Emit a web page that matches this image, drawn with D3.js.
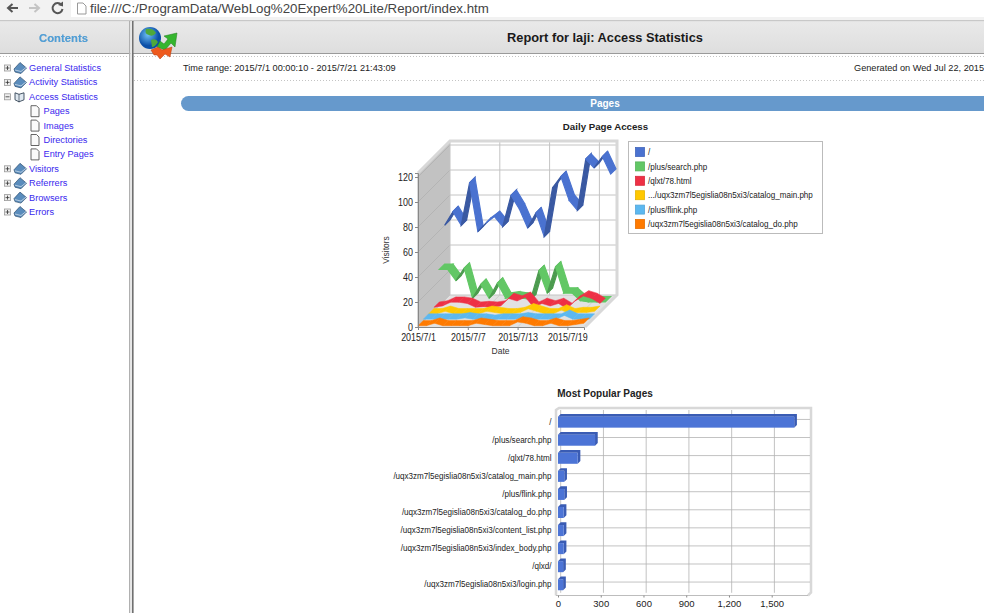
<!DOCTYPE html>
<html>
<head>
<meta charset="utf-8">
<title>Report for laji: Access Statistics</title>
<script src="https://cdn.jsdelivr.net/npm/d3@7"></script>
<style>
  html, body { margin: 0; padding: 0; background: #fff; overflow: hidden; }
  text { font-family: "Liberation Sans", Arial, sans-serif; }
</style>
</head>
<body>
<script>
// daily page access
var days = ["2015/7/1","2015/7/2","2015/7/3","2015/7/4","2015/7/5","2015/7/6","2015/7/7","2015/7/8","2015/7/9","2015/7/10","2015/7/11","2015/7/12","2015/7/13","2015/7/14","2015/7/15","2015/7/16","2015/7/17","2015/7/18","2015/7/19","2015/7/20","2015/7/21"];
var dayTicks = ["2015/7/1","2015/7/7","2015/7/13","2015/7/19"];
var visitorTicks = [0,20,40,60,80,100,120];
var legendNames = ["/","/plus/search.php","/qlxt/78.html",".../uqx3zm7l5egislia08n5xi3/catalog_main.php","/plus/flink.php","/uqx3zm7l5egislia08n5xi3/catalog_do.php"];
var rootVisits   = [60,71,60,94,55,62,67,59,84,73,58,70,51,90,99,80,72,113,106,115,101];
var searchVisits = [29,29,20,30,6,17,6,18,6,7,6,5,28,10,31,10,10,4,3,3,3];
var qlxtVisits   = [3,4,7,7,6,3,3.5,3,4,10,8,11,3,6,4,6,2,8,12,10,6];
var mainVisits   = [2,2,4,2,2,2,2,4,3,2,2,3,6,4,2,2,5,2,3,3,4];
var flinkVisits  = [2,2,2,2,2,3,2,2,1,2,2,2,3,2,2,2,2,5,2,2,2];
var doVisits     = [1,1,3,1,1,1,1,3,2,1,1,1,4,3,1,1,3,1,1,2,3];
var dailySeries = [rootVisits, searchVisits, qlxtVisits, mainVisits, flinkVisits, doVisits];
var seriesColors = ["#4a72d0","#62c765","#ee3045","#ffc800","#5cb8f0","#ff7a00"];

// most popular pages
var pageNames = ["/","/plus/search.php","/qlxt/78.html","/uqx3zm7l5egislia08n5xi3/catalog_main.php","/plus/flink.php","/uqx3zm7l5egislia08n5xi3/catalog_do.php","/uqx3zm7l5egislia08n5xi3/content_list.php","/uqx3zm7l5egislia08n5xi3/index_body.php","/qlxd/","/uqx3zm7l5egislia08n5xi3/login.php"];
var pageTotals = [1658,260,138,44,44,40,40,40,36,36];
var totalTicks = [0,300,600,900,1200,1500];

// navigation tree
var treeItems = ["General Statistics","Activity Statistics","Access Statistics","Pages","Images","Directories","Entry Pages","Visitors","Referrers","Browsers","Errors"];
var treeChildren = ["Pages","Images","Directories","Entry Pages"];

var svg = d3.select("body").append("svg")
    .attr("width", 984).attr("height", 613)
    .style("display", "block");

function label(g, x, y, str, size, anchor, color, weight) {
  return g.append("text")
      .attr("x", x).attr("y", y)
      .attr("font-size", size)
      .attr("text-anchor", anchor || "start")
      .attr("fill", color || "#222")
      .attr("font-weight", weight || "normal")
      .attr("dominant-baseline", "central")
      .text(str);
}
// the original chart font is narrower than anything installed, so squeeze it
function narrowLabel(g, x, y, str, anchor) {
  return label(g, 0, 0, str, 9.5, anchor, "#222")
      .attr("transform", "translate(" + x + "," + y + ") scale(0.85,1)");
}
function poly(g, pts, fill, stroke, sw) {
  return g.append("polygon")
      .attr("points", pts.map(function(p) { return p.join(","); }).join(" "))
      .attr("fill", fill)
      .attr("stroke", stroke || "none")
      .attr("stroke-width", sw || 0)
      .attr("stroke-linejoin", "round");
}

var defs = svg.append("defs");
var grad = defs.append("linearGradient").attr("id", "band").attr("x1", 0).attr("x2", 0).attr("y1", 0).attr("y2", 1);
grad.append("stop").attr("offset", 0).attr("stop-color", "#e9e9e9");
grad.append("stop").attr("offset", 1).attr("stop-color", "#dedede");
var globeGrad = defs.append("radialGradient").attr("id", "globe").attr("cx", 0.4).attr("cy", 0.35);
globeGrad.append("stop").attr("offset", 0).attr("stop-color", "#6fc0f5");
globeGrad.append("stop").attr("offset", 1).attr("stop-color", "#0b4fa8");

// ---- browser toolbar
var chrome = svg.append("g");
chrome.append("rect").attr("width", 984).attr("height", 20).attr("fill", "#f2f2f2");
chrome.append("rect").attr("x", 71).attr("width", 913).attr("height", 17).attr("fill", "#fff");
chrome.append("path").attr("d", "M18 8H9M12.5 4L8 8L12.5 12").attr("fill", "none").attr("stroke", "#555").attr("stroke-width", 2);
chrome.append("path").attr("d", "M29 8H38M34.5 4L39 8L34.5 12").attr("fill", "none").attr("stroke", "#c4c4c4").attr("stroke-width", 2);
chrome.append("path").attr("d", "M61.5 5A5 5 0 1 0 62.5 9").attr("fill", "none").attr("stroke", "#555").attr("stroke-width", 2);
poly(chrome, [[58,5],[63,1.5],[63,6.5]], "#555");
chrome.append("path").attr("d", "M77.5 3H83L86 6V14H77.5Z").attr("fill", "#fff").attr("stroke", "#999");
label(chrome, 90, 8.5, "file:///C:/ProgramData/WebLog%20Expert%20Lite/Report/index.htm", 13.3, "start", "#444");

// ---- frames
var frames = svg.append("g");
frames.append("rect").attr("y", 22).attr("width", 129).attr("height", 31).attr("fill", "url(#band)");
frames.append("rect").attr("x", 134).attr("y", 22).attr("width", 850).attr("height", 31).attr("fill", "url(#band)");
frames.append("rect").attr("y", 53).attr("width", 984).attr("height", 1).attr("fill", "#9a9a9a");
frames.append("rect").attr("y", 20).attr("width", 984).attr("height", 1.5).attr("fill", "#c8c8c8");
frames.append("rect").attr("x", 129).attr("y", 21).attr("width", 1.4).attr("height", 592).attr("fill", "#b0b0b0");
frames.append("rect").attr("x", 130.4).attr("y", 21).attr("width", 1.6).attr("height", 592).attr("fill", "#e8e8e8");
frames.append("rect").attr("x", 132).attr("y", 21).attr("width", 1.6).attr("height", 592).attr("fill", "#707070");
frames.append("line").attr("x1", 0).attr("x2", 129).attr("y1", 56.5).attr("y2", 56.5).attr("stroke", "#c4c4c4").attr("stroke-dasharray", "1,2");
frames.append("line").attr("x1", 134).attr("x2", 984).attr("y1", 56.5).attr("y2", 56.5).attr("stroke", "#c4c4c4").attr("stroke-dasharray", "1,2");
frames.append("line").attr("x1", 134).attr("x2", 984).attr("y1", 80.5).attr("y2", 80.5).attr("stroke", "#c4c4c4").attr("stroke-dasharray", "1,2");

label(frames, 63.5, 38, "Contents", 11.3, "middle", "#4f9fd8", "bold").style("filter", "drop-shadow(0.5px 0.5px 0.6px #9db4c4)");
label(frames, 605, 37.5, "Report for laji: Access Statistics", 12.8, "middle", "#1a1a1a", "bold");
label(frames, 183, 67.5, "Time range: 2015/7/1 00:00:10 - 2015/7/21 21:43:09", 9.2, "start", "#222");
label(frames, 854, 67.5, "Generated on Wed Jul 22, 2015", 9.2, "start", "#222");

// logo
var logo = svg.append("g");
logo.append("circle").attr("cx", 150).attr("cy", 38).attr("r", 11).attr("fill", "url(#globe)");
logo.append("path").attr("d", "M146 29Q153 28 156 33Q153 37 149 35Q144 34 146 29ZM151 40Q156 38 158 42Q155 47 152 47Z").attr("fill", "#4ea83a");
poly(logo, [[157,47],[160,41],[164,44],[168,39],[164,36],[177,33],[175,47],[171,43],[165,50]], "#35b52e", "#1f7a1c", 0.5);
poly(logo, [[151,50],[158,47],[162,50],[172,47],[170,57],[165,54],[160,59],[157,55],[154,55]], "#ee5a1e", "#b23c10", 0.5);

// pill heading
var pill = svg.append("g");
pill.append("rect").attr("x", 181).attr("y", 96).attr("width", 860).attr("height", 15).attr("rx", 7.5).attr("fill", "#6699cc");
label(pill, 605, 103.5, "Pages", 10, "middle", "#fff", "bold");

// ---- navigation tree
var treeY = d3.scalePoint().domain(treeItems).range([68, 212]);
var tree = svg.append("g").attr("class", "tree");
treeItems.forEach(function(name) {
  var y = treeY(name), child = treeChildren.indexOf(name) >= 0, open = name === "Access Statistics";
  if (child) {
    tree.append("path").attr("d", "M31 " + (y-5.5) + "h5.5l2.5 2.5V" + (y+5.5) + "H31Z").attr("fill", "#fafafa").attr("stroke", "#555").attr("stroke-width", 0.9);
  } else {
    tree.append("rect").attr("x", 4.5).attr("y", y-3).attr("width", 6).attr("height", 6).attr("fill", "#eee").attr("stroke", "#999").attr("stroke-width", 0.8);
    tree.append("path").attr("d", "M5.5 " + y + "h4" + (open ? "" : "M7.5 " + (y-2) + "v4")).attr("stroke", "#333").attr("stroke-width", 0.8);
    if (open) {
      tree.append("path").attr("d", "M15 " + (y-4) + "l4 1.5l5-1.5v7l-5 2l-4-2Z").attr("fill", "#dfe8f0").attr("stroke", "#345").attr("stroke-width", 0.9);
      tree.append("path").attr("d", "M19 " + (y-2.5) + "v8").attr("stroke", "#345").attr("stroke-width", 0.7);
    } else {
      poly(tree, [[14,y+1],[20,y-5.5],[26.5,y],[21,y+5.5],[15,y+4]], "#5a8cbc", "#2e4f70", 0.7);
      tree.append("path").attr("d", "M15 " + (y+2) + "L21 " + (y+3.5) + "L26 " + (y-0.5)).attr("fill", "none").attr("stroke", "#dde6ee").attr("stroke-width", 0.7);
    }
  }
  label(tree, child ? 43.5 : 29, y, name, 9.2, "start", "#3a28ee");
});

// ---- daily page access chart, 3D look as in the original
var line3d = svg.append("g");
var depthX = 32, depthY = 32;
var x = d3.scalePoint().domain(days).range([418, 584]);
var y = d3.scaleLinear().domain([0, 123.2]).range([327, 173]);
var depth = d3.scaleLinear().domain([0, dailySeries.length]).range([0, depthX]);
var right = x.range()[1] + 1;

label(line3d, 605.5, 126, "Daily Page Access", 9.7, "middle", "#222", "bold");

poly(line3d, [[418,173],[450,173-depthY],[450,327-depthY],[418,327]], "#c2c2c2");
poly(line3d, [[450,327-depthY],[right+depthX,327-depthY],[right,327],[418,327]], "#e2e2e2");

// gridlines on the back wall and left wall
visitorTicks.forEach(function(t) {
  var yy = y(t);
  line3d.append("line").attr("x1", 418).attr("x2", 418+depthX).attr("y1", yy).attr("y2", yy-depthY).attr("stroke", "#adadad").attr("stroke-width", 0.7);
  line3d.append("line").attr("x1", 418+depthX).attr("x2", right+depthX).attr("y1", yy-depthY).attr("y2", yy-depthY).attr("stroke", "#c4c4c4").attr("stroke-width", 1);
});
dayTicks.forEach(function(d) {
  var xx = x(d);
  line3d.append("line").attr("x1", xx+depthX).attr("x2", xx+depthX).attr("y1", 173-depthY).attr("y2", 327-depthY).attr("stroke", "#c4c4c4").attr("stroke-width", 1);
  line3d.append("line").attr("x1", xx).attr("x2", xx+depthX).attr("y1", 327).attr("y2", 327-depthY).attr("stroke", "#c8c8c8").attr("stroke-width", 0.7);
});

// rim
line3d.append("path")
    .attr("d", "M418 173L450 " + (173-depthY) + "H" + (right+depthX) + "V" + (327-depthY) + "L" + right + " 327")
    .attr("fill", "none").attr("stroke", "#d8d8d8").attr("stroke-width", 3);
line3d.append("path").attr("d", "M418 173V327").attr("fill", "none").attr("stroke", "#d8d8d8").attr("stroke-width", 2);

// ribbons, back series first
var ribbon = d3.line();
dailySeries.forEach(function(values, s) {
  var slot = dailySeries.length - 1 - s;
  var near = depth(slot), far = depth(slot + 1);
  var color = d3.color(seriesColors[s]);
  var dark = color.darker(0.7).formatHex();
  var g = line3d.append("g").attr("class", "series");
  g.selectAll("path").data(d3.pairs(values.map(function(v, i) { return { x: x(days[i]), y: y(v) }; })))
    .join("path")
      .attr("d", function(p) {
        return ribbon([[p[0].x+near, p[0].y-near], [p[1].x+near, p[1].y-near], [p[1].x+far, p[1].y-far], [p[0].x+far, p[0].y-far]]) + "Z";
      })
      .attr("fill", function(p) {
        // steeper than the depth direction: we see the underside
        return p[0].y - p[1].y > p[1].x - p[0].x ? dark : color.formatHex();
      })
      .attr("stroke", function(p) {
        return p[0].y - p[1].y > p[1].x - p[0].x ? dark : color.formatHex();
      })
      .attr("stroke-width", s < 2 ? 1.2 : 0.5);
});

// axes
var xAxis = d3.axisBottom(x).tickValues(dayTicks).tickSize(3).tickPadding(4);
var yAxis = d3.axisLeft(y).tickValues(visitorTicks).tickSize(3).tickPadding(3);
var xg = line3d.append("g").attr("transform", "translate(0,327)").call(xAxis);
var yg = line3d.append("g").attr("transform", "translate(418,0)").call(yAxis);
[xg, yg].forEach(function(a) {
  a.attr("font-family", null);
  a.selectAll("path,line").attr("stroke", "#888");
  a.selectAll("text").attr("font-size", 10.5).attr("fill", "#222").attr("transform", "scale(0.85,1)");
});
label(line3d, 500.5, 351, "Date", 8.5, "middle", "#333");
label(line3d, 0, 0, "Visitors", 8.5, "middle", "#333").attr("transform", "translate(386,250) rotate(-90)");

// legend
var legend = svg.append("g");
legend.append("rect").attr("x", 628.5).attr("y", 141.5).attr("width", 194).attr("height", 92).attr("fill", "#fff").attr("stroke", "#bbb");
var legendY = d3.scalePoint().domain(legendNames).range([152, 224]);
legendNames.forEach(function(name, i) {
  legend.append("rect").attr("x", 635.5).attr("y", legendY(name)-4.5).attr("width", 9).attr("height", 9)
      .attr("fill", seriesColors[i]).attr("stroke", d3.color(seriesColors[i]).darker(0.3).formatHex()).attr("stroke-width", 0.8);
  narrowLabel(legend, 648, legendY(name), name, "start");
});

// ---- most popular pages, horizontal bars
var bars = svg.append("g");
var barDepth = 2.7;
var bx = d3.scaleLinear().domain([0, 1500]).range([558, 771.7]);
var by = d3.scaleBand().domain(pageNames).range([413.2, 593.7]).paddingInner(0.39).paddingOuter(0.19);
var plotRight = 808, plotBottom = 595.5, plotTop = 410;

label(bars, 605, 393, "Most Popular Pages", 10, "middle", "#222", "bold");

bars.append("path")
    .attr("d", "M556 " + plotBottom + "V" + plotTop + "L559 " + (plotTop-2) + "H" + (plotRight+3) + "V" + (plotBottom-3) + "L" + plotRight + " " + plotBottom)
    .attr("fill", "none").attr("stroke", "#d8d8d8").attr("stroke-width", 2.5);

totalTicks.forEach(function(t) {
  bars.append("line").attr("x1", bx(t)+barDepth).attr("x2", bx(t)+barDepth).attr("y1", plotTop).attr("y2", plotBottom-barDepth)
      .attr("stroke", "#b4b4b4").attr("stroke-width", 0.8);
});
pageNames.forEach(function(name) {
  var yy = by(name) + by.bandwidth()/2 - barDepth;
  bars.append("line").attr("x1", bx(0)).attr("x2", plotRight+2).attr("y1", yy).attr("y2", yy)
      .attr("stroke", "#b4b4b4").attr("stroke-width", 0.8);
});

var barColor = "#4c74d6", barDark = "#3a5cb4";
var bar = bars.selectAll("g.bar").data(pageNames).join("g").attr("class", "bar");
bar.append("path")
    .attr("d", function(name, i) {
      var t = by(name), b = t + by.bandwidth(), l = bx(0), r = bx(pageTotals[i]);
      return "M" + l + " " + t + "L" + (l+barDepth) + " " + (t-barDepth) + "H" + (r+barDepth) + "V" + (b-barDepth) + "L" + r + " " + b + "V" + t + "Z";
    })
    .attr("fill", barDark);
bar.append("rect")
    .attr("x", bx(0))
    .attr("y", function(name) { return by(name); })
    .attr("width", function(name, i) { return bx(pageTotals[i]) - bx(0); })
    .attr("height", by.bandwidth())
    .attr("fill", barColor);

bars.append("line").attr("x1", bx(0)-2).attr("x2", plotRight).attr("y1", plotBottom).attr("y2", plotBottom).attr("stroke", "#bdbdbd");

var barAxis = d3.axisBottom(bx).tickValues(totalTicks).tickSize(2).tickPadding(3).tickFormat(d3.format(","));
var bax = bars.append("g").attr("transform", "translate(0," + plotBottom + ")").call(barAxis);
bax.attr("font-family", null);
bax.select("path").attr("stroke", "none");
bax.selectAll("line").attr("stroke", "#888");
bax.selectAll("text").attr("font-size", 9.5).attr("fill", "#222");

pageNames.forEach(function(name) {
  narrowLabel(bars, 551.5, by(name) + by.bandwidth()/2 - 0.5, name, "end");
});
</script>
</body>
</html>
